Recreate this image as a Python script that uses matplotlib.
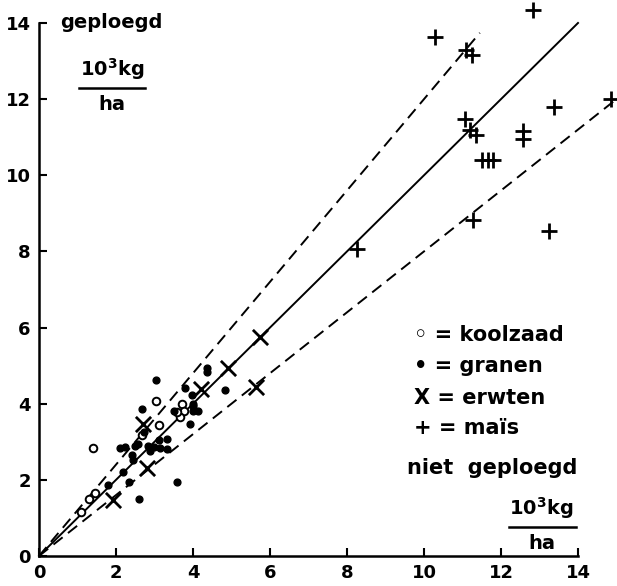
import matplotlib
matplotlib.use("Agg")
import matplotlib.pyplot as plt
import numpy as np

# ---------------------------------------------------------------------------
# Data: x = niet geploegd, y = geploegd, 10^3 kg/ha
# ---------------------------------------------------------------------------

koolzaad_x = [1.1, 1.3, 1.45, 1.41, 3.04, 2.67, 3.12, 3.71, 3.77, 3.66, 3.58]
koolzaad_y = [1.15, 1.5, 1.65, 2.83, 4.06, 3.19, 3.43, 4.0, 3.82, 3.64, 3.77]

granen_x = [3.04, 2.67, 4.36, 4.36, 3.79, 3.97, 4.0, 4.13, 4.0, 3.92, 3.51,
            2.73, 3.12, 3.32, 2.1, 2.23, 2.49, 2.57, 2.83, 2.88, 3.0, 3.14,
            3.32, 2.42, 2.44, 2.18, 2.34, 1.8, 2.6, 3.58, 4.83, 4.0]
granen_y = [4.63, 3.85, 4.95, 4.82, 4.42, 4.24, 4.0, 3.82, 3.82, 3.48, 3.82,
            3.25, 3.04, 3.06, 2.83, 2.85, 2.9, 2.93, 2.9, 2.77, 2.85, 2.83,
            2.8, 2.64, 2.51, 2.2, 1.94, 1.86, 1.49, 1.94, 4.35, 3.95]

erwten_x = [5.74, 4.91, 5.64, 4.2, 2.7, 2.8, 1.92]
erwten_y = [5.76, 4.95, 4.45, 4.38, 3.48, 2.3, 1.47]

mais_x = [10.29, 12.83, 11.1, 11.25, 11.07, 11.2, 11.35, 13.38, 12.57, 12.57,
          11.5, 11.65, 11.8, 14.86, 11.27, 13.25, 8.26]
mais_y = [13.64, 14.35, 13.3, 13.15, 11.47, 11.2, 11.05, 11.78, 11.15, 10.95,
          10.4, 10.4, 10.4, 11.99, 8.82, 8.53, 8.06]

# reference lines: y = slope * x, drawn up to x_end
line_slopes = [1.0, 1.2, 0.8]
line_ends = [14.0, 11.45, 15.0]
line_styles = ["-", "--", "--"]

ticks = [0, 2, 4, 6, 8, 10, 12, 14]

# ---------------------------------------------------------------------------
# Figure
# ---------------------------------------------------------------------------

fig = plt.figure(figsize=(6.17, 5.86), dpi=100, facecolor="white")
ax = fig.add_axes([0.0632, 0.0512, 0.8736, 0.9096])

for slope, x_end, ls in zip(line_slopes, line_ends, line_styles):
    xs = np.array([0.0, x_end])
    if ls == "--":
        ax.plot(xs, slope * xs, color="black", lw=1.4, ls=(0, (6, 3.5)),
                clip_on=False)
    else:
        ax.plot(xs, slope * xs, color="black", lw=1.4, clip_on=False)

ax.scatter(koolzaad_x, koolzaad_y, s=30, facecolors="white",
           edgecolors="black", linewidths=1.4, zorder=4, clip_on=False)
ax.scatter(granen_x, granen_y, s=24, color="black", zorder=4, clip_on=False)
ax.scatter(erwten_x, erwten_y, s=120, marker="x", color="black",
           linewidths=2.0, zorder=4, clip_on=False)
ax.scatter(mais_x, mais_y, s=120, marker="+", color="black",
           linewidths=2.0, zorder=4, clip_on=False)

ax.set_xlim(0, 14)
ax.set_ylim(0, 14)
ax.set_xticks(ticks)
ax.set_yticks(ticks)
ax.set_xticklabels([str(t) for t in ticks], fontweight="bold")
ax.set_yticklabels([str(t) for t in ticks], fontweight="bold")
ax.tick_params(direction="in", length=6, width=1.5, labelsize=13, pad=6)
for side in ("top", "right"):
    ax.spines[side].set_visible(False)
for side in ("left", "bottom"):
    ax.spines[side].set_linewidth(1.8)

lab = dict(fontsize=14, fontweight="bold", va="center")

# y-axis label (top left)
ax.text(0.55, 14.0, "geploegd", ha="left", **lab)
ax.text(1.9, 12.8, r"10$^\mathbf{3}$kg", ha="center", **lab)
ax.plot([1.05, 2.75], [12.3, 12.3], color="black", lw=1.8)
ax.text(1.9, 11.85, "ha", ha="center", **lab)

# legend as text
legend_lines = ["◦ = koolzaad", "• = granen", "X = erwten", "+ = maïs"]
legend_y = [5.8, 5.0, 4.15, 3.35]
for txt, ly in zip(legend_lines, legend_y):
    ax.text(9.75, ly, txt, ha="left", fontsize=15, fontweight="bold",
            va="center")

# x-axis label (bottom right)
ax.text(9.55, 2.3, "niet  geploegd", ha="left", fontsize=15,
        fontweight="bold", va="center")
ax.text(13.05, 1.25, r"10$^\mathbf{3}$kg", ha="center", **lab)
ax.plot([12.2, 13.95], [0.75, 0.75], color="black", lw=1.8)
ax.text(13.05, 0.32, "ha", ha="center", **lab)

fig.savefig("out.png", dpi=100, facecolor="white")
plt.close(fig)
